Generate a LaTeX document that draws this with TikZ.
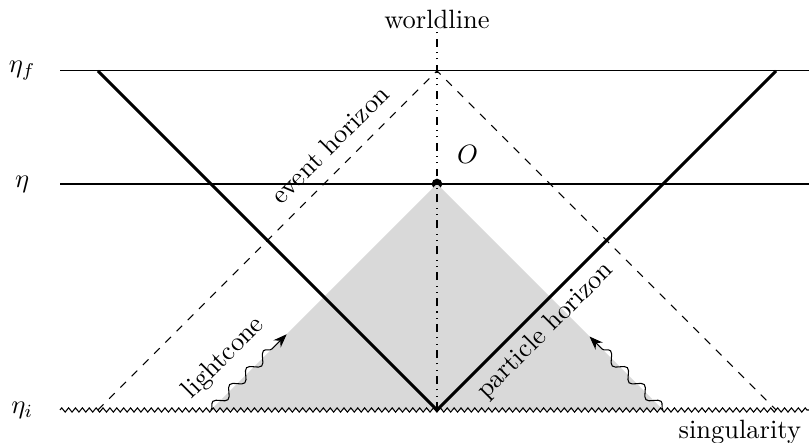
\documentclass[tikz,border=0pt]{standalone}
\usepackage{amsmath}
\usepackage{xcolor}
\usetikzlibrary{arrows.meta, decorations.pathmorphing}

\begin{document}
\begin{tikzpicture}[x=1.5cm, y=1.5cm,
    timeline/.style={draw=black},
    rayline/.style={draw=black, line width=1.1pt},
    horizon/.style={draw=black, dashed},
    bigbang/.style={draw=black, decorate, decoration={zigzag, amplitude=0.8pt, segment length=2.6pt}},
    wavy/.style={draw=black, -{Stealth[length=1.8mm]}, decorate, decoration={snake, amplitude=1.8pt, segment length=9pt, post length=1.8mm}},
    tag/.style={font=\normalsize, inner sep=1pt}
]
    \useasboundingbox (-3.867,-0.292) rectangle (3.292,3.628);

    % Time slices
    \coordinate (FL) at (-3.336, 3);
    \coordinate (FR) at (3.292, 3);
    \coordinate (NL) at (-3.336, 2);
    \coordinate (NR) at (3.292, 2);
    \coordinate (IL) at (-3.336, 0);
    \coordinate (IR) at (3.292, 0);

    % Cone corners
    \coordinate (BOT) at (0, 0);
    \coordinate (TOP) at (0, 3);
    \coordinate (VL) at (-3, 3);
    \coordinate (VR) at (3, 3);
    \coordinate (EL) at (-3, 0);
    \coordinate (ER) at (3, 0);
    \coordinate (CL) at (-2, 0);
    \coordinate (CR) at (2, 0);
    \coordinate (WTOP) at (0, 3.345);

    % Observer
    \node[circle, fill=black, inner sep=0pt, minimum size=4pt] (OBS) at (0, 2) {};

    % Past light cone
    \fill[black!15] (CL) -- (OBS.center) -- (CR) -- cycle;

    % Time slices and singularity
    \draw[timeline] (FL) -- (FR);
    \draw[timeline] (NL) -- (NR);
    \draw[bigbang] (IL) -- (IR);

    % Worldline
    \draw[timeline, dash dot dot] (BOT) -- (WTOP);
    \node[above, tag] (WL) at (WTOP) {worldline};

    % Particle horizon and event horizon
    \draw[rayline] (VL) -- (BOT) -- (VR);
    \draw[horizon] (EL) -- (TOP) -- (ER);

    % Labels
    \node[tag] (ETAF) at (-3.67, 3) {$\eta_f$};
    \node[tag] (ETA) at (-3.67, 2) {$\eta$};
    \node[tag] (ETAI) at (-3.67, 0) {$\eta_i$};
    \node[tag] (OLBL) at (0.27, 2.26) {$O$};
    \node[tag] (SING) at (2.68, -0.195) {singularity};
    \node[tag, rotate=45] (EH) at (-0.95, 2.35) {event horizon};
    \node[tag, rotate=45] (LC) at (-1.885, 0.46) {lightcone};
    \node[tag, rotate=45] (PH) at (0.96, 0.70) {particle horizon};

    % Photon paths
    \coordinate (AL) at (-1.33, 0.67);
    \coordinate (AR) at (1.35, 0.65);
    \draw[wavy] (CL) -- (AL);
    \draw[wavy, decoration={mirror}] (CR) -- (AR);
\end{tikzpicture}
\end{document}
